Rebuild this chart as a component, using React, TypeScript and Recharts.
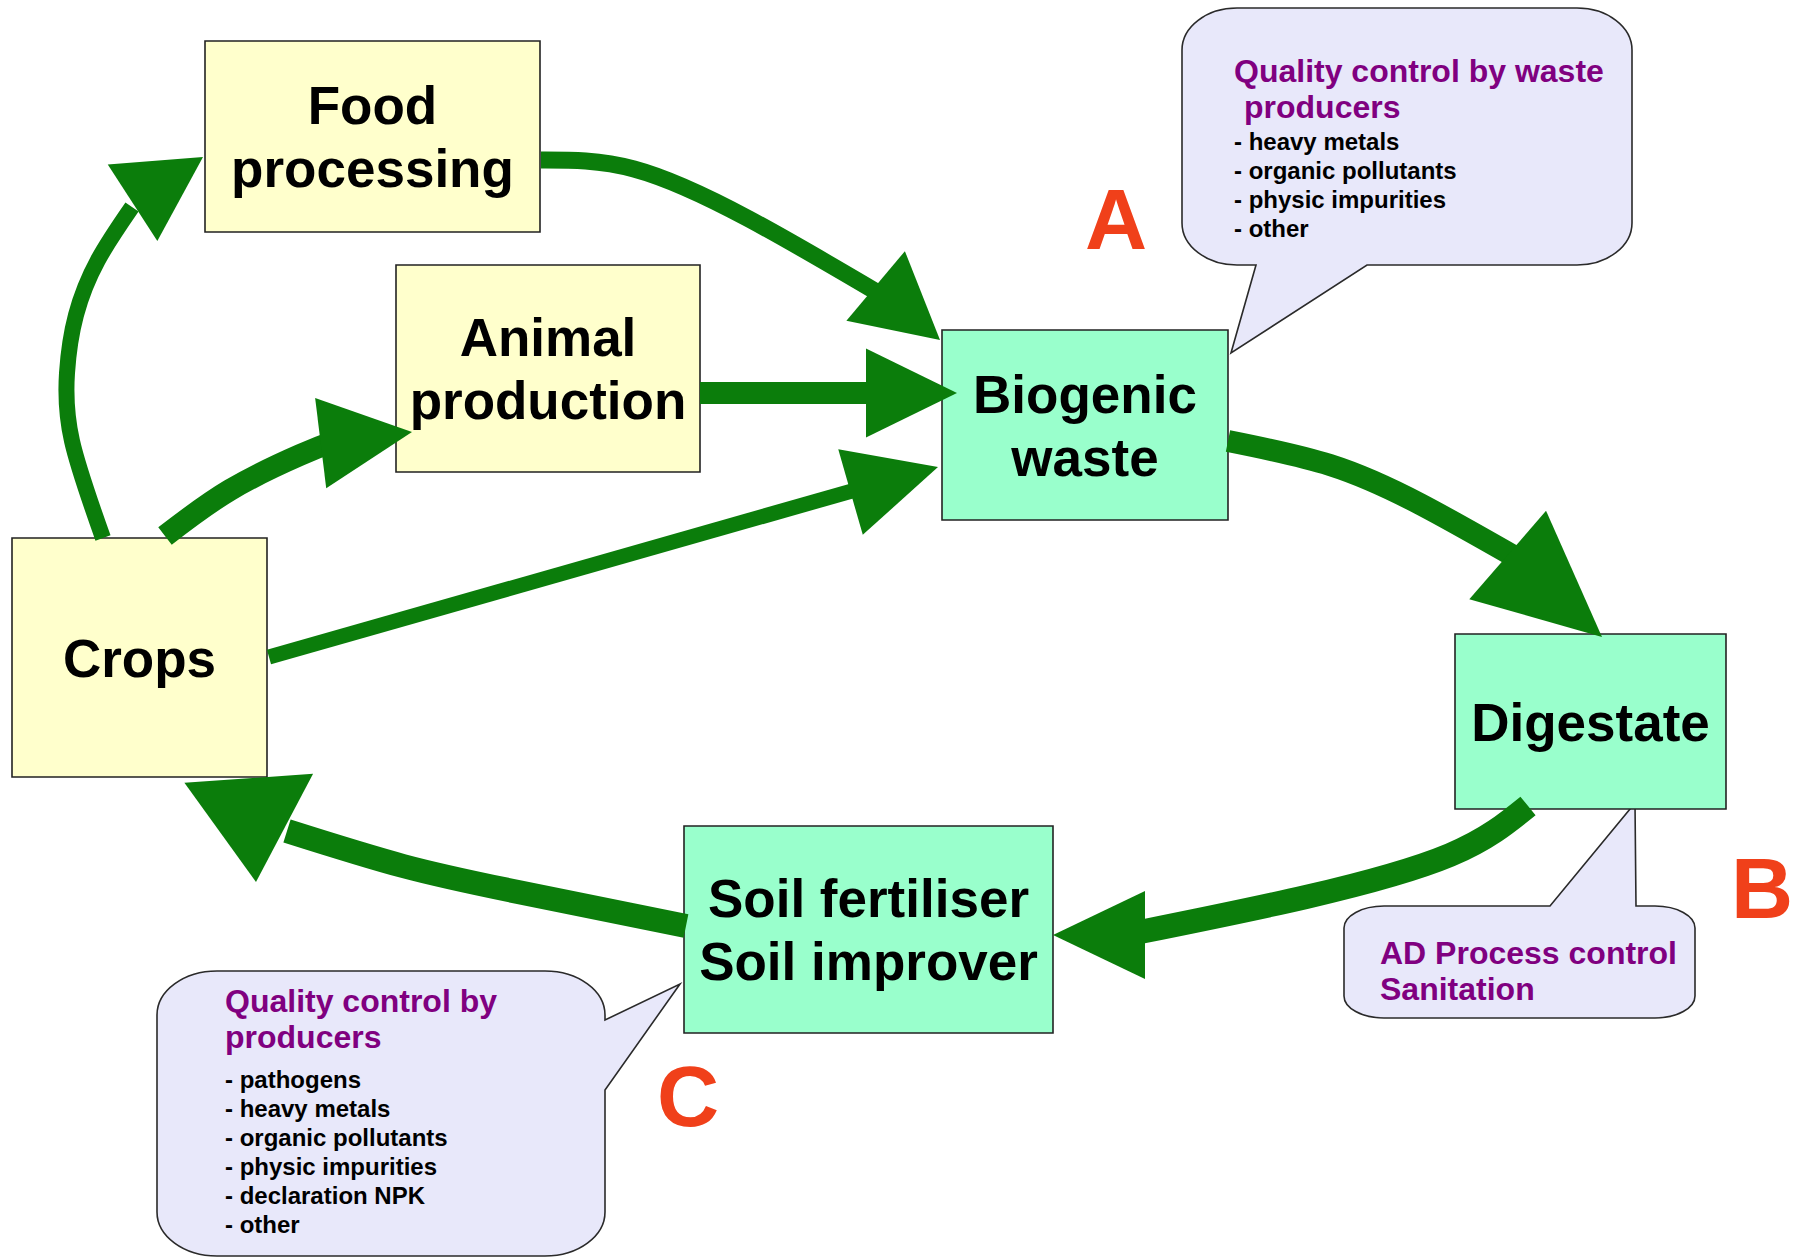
import React from 'react';
import { ComposedChart, XAxis, YAxis, Line, Scatter, ReferenceArea } from 'recharts';

// ---------- canvas domain (diagram units) ----------
const DOMAIN_W = 1806;
const DOMAIN_H = 1258;

// ---------- nodes (boxes) ----------
const nodeNames = ['Food processing', 'Animal production', 'Crops', 'Biogenic waste', 'Digestate', 'Soil fertiliser'];
const nodeLabels = [['Food', 'processing'], ['Animal', 'production'], ['Crops'], ['Biogenic', 'waste'], ['Digestate'], ['Soil fertiliser', 'Soil improver']];
const nodeX1 = [205, 396, 12, 942, 1455, 684];
const nodeX2 = [540, 700, 267, 1228, 1726, 1053];
const nodeY1 = [41, 265, 538, 330, 634, 826];
const nodeY2 = [232, 472, 777, 520, 809, 1033];
const nodeKind = ['input', 'input', 'input', 'process', 'process', 'process'];

// ---------- arrow shafts (points along each flow) ----------
const shaftCropsFood = [
  { x: 103, y: 538 }, { x: 72, y: 441 }, { x: 67, y: 373 }, { x: 76, y: 315 }, { x: 98, y: 260 }, { x: 132, y: 207 },
];
const shaftFoodBio = [
  { x: 541, y: 160 }, { x: 634, y: 169 }, { x: 749, y: 219 }, { x: 880, y: 294 },
];
const shaftCropsAnimal = [
  { x: 165, y: 536 }, { x: 230, y: 490 }, { x: 300, y: 455 }, { x: 335, y: 441 },
];
const shaftAnimalBio = [{ x: 700, y: 393 }, { x: 872, y: 393 }];
const shaftCropsBio = [{ x: 269, y: 657 }, { x: 852, y: 491 }];
const shaftBioDigestate = [
  { x: 1228, y: 441 }, { x: 1330, y: 465 }, { x: 1420, y: 504 }, { x: 1517, y: 558 },
];
const shaftDigestateSoil = [
  { x: 1528, y: 806 }, { x: 1450, y: 855 }, { x: 1306, y: 897 }, { x: 1140, y: 932 },
];
const shaftSoilCrops = [
  { x: 686, y: 926 }, { x: 518, y: 892 }, { x: 403, y: 866 }, { x: 287, y: 831 },
];
const shafts = [shaftCropsFood, shaftFoodBio, shaftCropsAnimal, shaftAnimalBio, shaftCropsBio, shaftBioDigestate, shaftDigestateSoil, shaftSoilCrops];
const shaftCurve = ['natural', 'natural', 'natural', 'linear', 'linear', 'natural', 'natural', 'natural'];

// ---------- arrow heads (tip point + pointing direction in degrees) ----------
const headX = [203, 940, 412, 957, 938, 1602, 1053, 256];
const headY = [157, 340, 432, 393, 467, 637, 935, 882];
const headAngle = [-33, 40, -7, 0, -16, 41, 180, 86];

// ---------- letters ----------
const letterText = ['A', 'B', 'C'];
const letterX = [1116, 1762, 688];
const letterY = [249, 918, 1126];

// ---------- callouts ----------
const calloutX1 = [1182, 1344, 157];
const calloutX2 = [1632, 1695, 605];
const calloutY1 = [8, 906, 971];
const calloutY2 = [265, 1018, 1256];
const calloutTailEdge = ['bottom', 'top', 'right'];
const calloutTailFrom = [1256, 1550, 1020];
const calloutTailTo = [1367, 1636, 1090];
const calloutTipX = [1231, 1635, 680];
const calloutTipY = [353, 803, 984];
const calloutTitles = [['Quality control by waste', 'producers'], ['AD Process control', 'Sanitation'], ['Quality control by', 'producers']];
const calloutItems = [
  ['- heavy metals', '- organic pollutants', '- physic impurities', '- other'],
  [],
  ['- pathogens', '- heavy metals', '- organic pollutants', '- physic impurities', '- declaration NPK', '- other'],
];

// ---------- styles / layout ----------
const GREEN = '#0b7d0b';
const FONT = '"Liberation Sans", Arial, Helvetica, sans-serif';
const SHAFT_WIDTH = [16, 17, 22, 22, 15, 22, 24, 24];
const HEAD_LEN = [84, 84, 92, 91, 91, 125, 92, 104];
const HEAD_WID = [91, 91, 91, 89, 89, 117, 88, 129];
const NODE_FILL: Record<string, string> = { input: '#ffffcc', process: '#99ffcc' };
const CALLOUT_RX = [55, 40, 60];
const CALLOUT_RY = [42, 22, 44];
const CALLOUT_TEXT_DX = [52, 36, 68];
const CALLOUT_TITLE_DY = [74, 58, 41];
const CALLOUT_TITLE_INDENT = [[0, 10], [0, 0], [0, 0]];
const CALLOUT_ITEMS_DY = [142, 0, 117];

const makeBoxLabel = (lines: string[]) => (props: any) => {
  const vb = props.viewBox || {};
  const cx = vb.x + vb.width / 2;
  const cy = vb.y + vb.height / 2;
  const n = lines.length;
  return (
    <text textAnchor="middle" fontFamily={FONT} fontWeight="bold" fontSize={53} fill="#000">
      {lines.map((l, i) => (
        <tspan key={i} x={cx} y={cy + (i - (n - 1) / 2) * 63 + 19}>{l}</tspan>
      ))}
    </text>
  );
};

const makeCalloutShape = (i: number) => (props: any) => {
  const { x, y, width, height } = props;
  const x1 = calloutX1[i], x2 = calloutX2[i], y1 = calloutY1[i], y2 = calloutY2[i];
  const px = (v: number) => x + ((v - x1) / (x2 - x1)) * width;
  const py = (v: number) => y + ((v - y1) / (y2 - y1)) * height;
  const rx = CALLOUT_RX[i], ry = CALLOUT_RY[i];
  const edge = calloutTailEdge[i];
  const tx = px(calloutTipX[i]), ty = py(calloutTipY[i]);
  const w = width, h = height;
  let a = 0, b = 0;
  if (edge === 'right') { a = py(calloutTailFrom[i]); b = py(calloutTailTo[i]); }
  else { a = px(calloutTailFrom[i]); b = px(calloutTailTo[i]); }
  let d = `M${x + rx},${y}`;
  if (edge === 'top') d += ` L${a},${y} L${tx},${ty} L${b},${y}`;
  d += ` L${x + w - rx},${y} A${rx},${ry} 0 0 1 ${x + w},${y + ry}`;
  if (edge === 'right') d += ` L${x + w},${a} L${tx},${ty} L${x + w},${b}`;
  d += ` L${x + w},${y + h - ry} A${rx},${ry} 0 0 1 ${x + w - rx},${y + h}`;
  if (edge === 'bottom') d += ` L${b},${y + h} L${tx},${ty} L${a},${y + h}`;
  d += ` L${x + rx},${y + h} A${rx},${ry} 0 0 1 ${x},${y + h - ry} L${x},${y + ry} A${rx},${ry} 0 0 1 ${x + rx},${y} Z`;
  return <path d={d} fill="#e8e8fa" stroke="#2a2a2a" strokeWidth={1.6} />;
};

const makeCalloutLabel = (i: number) => (props: any) => {
  const vb = props.viewBox || {};
  const tx = vb.x + CALLOUT_TEXT_DX[i];
  const ty = vb.y + CALLOUT_TITLE_DY[i];
  const iy = vb.y + CALLOUT_ITEMS_DY[i];
  return (
    <g>
      <text fontFamily={FONT} fontWeight="bold" fontSize={32} fill="#800080">
        {calloutTitles[i].map((t, k) => (
          <tspan key={k} x={tx + CALLOUT_TITLE_INDENT[i][k]} y={ty + k * 36}>{t}</tspan>
        ))}
      </text>
      <text fontFamily={FONT} fontWeight="bold" fontSize={24} fill="#000">
        {calloutItems[i].map((t, k) => (
          <tspan key={k} x={tx} y={iy + k * 29}>{t}</tspan>
        ))}
      </text>
    </g>
  );
};

const ArrowHead = (props: any) => {
  const { cx, cy, payload } = props;
  if (cx == null || cy == null) return null;
  const k = payload.idx;
  const L = HEAD_LEN[k], Wd = HEAD_WID[k];
  const d = `M0,0 L${-L},${-Wd / 2} L${-L},${Wd / 2} Z`;
  return <path d={d} fill={GREEN} transform={`translate(${cx},${cy}) rotate(${payload.angle})`} />;
};

const Letter = (props: any) => {
  const { cx, cy, payload } = props;
  if (cx == null || cy == null) return null;
  return (
    <text x={cx} y={cy} textAnchor="middle" fontFamily={FONT} fontWeight="bold" fontSize={86} fill="#f0401a">
      {payload.letter}
    </text>
  );
};

const headData = headX.map((x, i) => ({ x, y: headY[i], angle: headAngle[i], idx: i }));
const letterData = letterText.map((letter, i) => ({ x: letterX[i], y: letterY[i], letter }));

export default function App() {
  return (
    <div style={{ position: 'absolute', left: 0, top: 0, background: '#fff' }}>
      <ComposedChart width={DOMAIN_W} height={DOMAIN_H} margin={{ top: 0, right: 0, bottom: 0, left: 0 }}>
        <XAxis type="number" dataKey="x" domain={[0, DOMAIN_W]} hide allowDataOverflow />
        <YAxis type="number" dataKey="y" domain={[0, DOMAIN_H]} reversed hide allowDataOverflow />
        {calloutX1.map((x1, i) => (
          <ReferenceArea
            key={'c' + i}
            x1={x1}
            x2={calloutX2[i]}
            y1={calloutY1[i]}
            y2={calloutY2[i]}
            shape={makeCalloutShape(i)}
            label={makeCalloutLabel(i)}
            ifOverflow="visible"
          />
        ))}
        {nodeNames.map((name, i) => (
          <ReferenceArea
            key={name}
            x1={nodeX1[i]}
            x2={nodeX2[i]}
            y1={nodeY1[i]}
            y2={nodeY2[i]}
            fill={NODE_FILL[nodeKind[i]]}
            fillOpacity={1}
            stroke="#222"
            strokeWidth={1.6}
            label={makeBoxLabel(nodeLabels[i])}
            ifOverflow="visible"
          />
        ))}
        {shafts.map((pts, i) => (
          <Line
            key={'s' + i}
            data={pts}
            dataKey="y"
            type={shaftCurve[i] as any}
            stroke={GREEN}
            strokeWidth={SHAFT_WIDTH[i]}
            strokeLinecap="butt"
            dot={false}
            activeDot={false}
            isAnimationActive={false}
          />
        ))}
        <Scatter data={headData} dataKey="y" shape={<ArrowHead />} isAnimationActive={false} />
        <Scatter data={letterData} dataKey="y" shape={<Letter />} isAnimationActive={false} />
      </ComposedChart>
    </div>
  );
}
